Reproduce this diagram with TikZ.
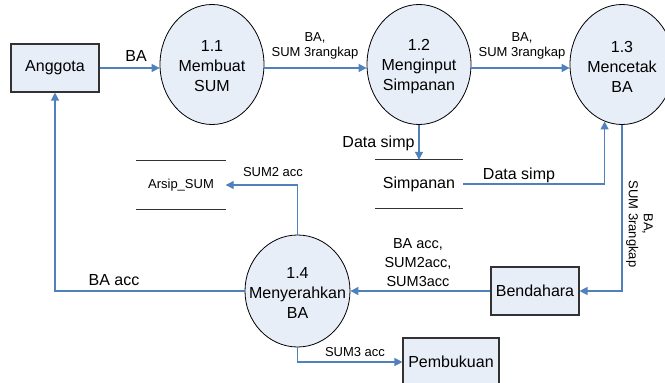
\documentclass[tikz,border=0pt]{standalone}
\usepackage{fontspec}
\setmainfont{Liberation Sans}
\usetikzlibrary{shapes.geometric,arrows.meta}
\definecolor{flowblue}{RGB}{79,129,189}
\definecolor{shapefill}{RGB}{232,238,248}
\definecolor{edgegray}{RGB}{50,50,50}
\tikzset{
  entity/.style={draw=edgegray, line width=1.1pt, fill=shapefill, minimum width=88pt,
    minimum height=48pt, inner sep=0pt, font=\fontsize{16}{20}\selectfont},
  process/.style={ellipse, draw=black, line width=0.8pt, fill=shapefill,
    minimum width=104pt, minimum height=120pt, inner sep=0pt},
  proctext/.style={align=center, font=\fontsize{16}{20}\selectfont, inner sep=0pt, yshift=-2pt},
  store/.style={minimum width=88pt, minimum height=48pt, inner sep=0pt},
  storeline/.style={draw=edgegray, line width=0.9pt},
  flow/.style={draw=flowblue, line width=1.2pt, -{Triangle[length=8pt,width=8pt]}},
  biglabel/.style={font=\fontsize{16}{18}\selectfont, inner sep=0pt},
  smalllabel/.style={font=\fontsize{13}{15}\selectfont, align=center, inner sep=0pt},
  midlabel/.style={font=\fontsize{14.5}{19}\selectfont, align=center, inner sep=0pt},
}
\begin{document}
\begin{tikzpicture}[x=1pt,y=-1pt]
  \path[use as bounding box, clip] (0,0) rectangle (665,383);
  \fill[white] (0,0) rectangle (665,383);

  % external entities
  \node[entity] (anggota) at (55,68) {Anggota};
  \node[entity] (bend) at (535,291) {Bendahara};
  \node[entity, minimum width=96pt] (pemb) at (451,362) {Pembukuan};

  % processes
  \node[process] (p11) at (212,64.5) {};
  \node[proctext] (p11t) at (p11) {1.1\\Membuat\\SUM};
  \node[process] (p12) at (419,64.5) {};
  \node[proctext] (p12t) at (p12) {1.2\\Menginput\\Simpanan};
  \node[process] (p13) at (622,64.5) {};
  \node[proctext] (p13t) at (p13) {1.3\\Mencetak\\BA};
  \node[process, minimum height=112pt, minimum width=105pt] (p14) at (297.5,291) {};
  \node[proctext] (p14t) at (p14) {1.4\\Menyerahkan\\BA};

  % data stores
  \node[store, font=\fontsize{16}{18}\selectfont] (simp) at (419,184) {Simpanan};
  \draw[storeline] (simp.north west) -- (simp.north east);
  \draw[storeline] (simp.south west) -- (simp.south east);
  \node[store, minimum width=89pt, font=\fontsize{13}{15}\selectfont] (arsip) at (181,185) {Arsip\_SUM};
  \draw[storeline] (arsip.north west) -- (arsip.north east);
  \draw[storeline] (arsip.south west) -- (arsip.south east);

  % data flows
  \draw[flow] (anggota.east) -- (anggota.east -| p11.west);
  \draw[flow] (p11.east |- anggota.east) -- (p12.west |- anggota.east);
  \draw[flow] (p12.east |- anggota.east) -- (p13.west |- anggota.east);
  \draw[flow] (p12.south) -- (simp.north);
  \draw[flow] (simp.east) -| (p13.253);
  \draw[flow] (p13.south) |- (bend.east);
  \draw[flow] (bend.west) -- (p14.east);
  \draw[flow] (p14.north) |- (arsip.east);
  \draw[flow] (p14.west) -| (anggota.south);
  \draw[flow] (p14.south) |- (pemb.west);

  % flow labels
  \node[biglabel] (lba) at (136,56) {BA};
  \node[smalllabel] (l12) at (315,45.5) {BA,\\SUM 3rangkap};
  \node[smalllabel] (l23) at (522,45.5) {BA,\\SUM 3rangkap};
  \node[biglabel] (lds1) at (378.5,143) {Data simp};
  \node[biglabel] (lds2) at (519,175) {Data simp};
  \node[smalllabel, rotate=-90] (l3b) at (639.5,224) {BA,\\SUM 3rangkap};
  \node[midlabel] (lb4) at (418,263) {BA acc,\\SUM2acc,\\SUM3acc};
  \node[smalllabel] (l4a) at (273,172) {SUM2 acc};
  \node[biglabel] (l4g) at (114,280) {BA acc};
  \node[smalllabel] (l4p) at (355,352) {SUM3 acc};
\end{tikzpicture}
\end{document}
